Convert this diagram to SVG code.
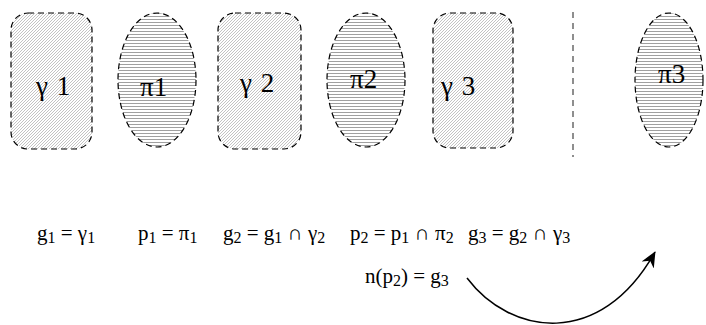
<svg xmlns="http://www.w3.org/2000/svg" width="706" height="325" viewBox="0 0 706 325">
<style>
.rect{fill:url(#diag);stroke:#000;stroke-width:1.2;stroke-dasharray:6 4}
.ell{fill:url(#horiz);stroke:#000;stroke-width:1.2;stroke-dasharray:6 4}
.lbl{font-family:"Liberation Serif","Times New Roman",serif;font-size:27px;fill:#000}
.eq{font-family:"Liberation Serif","Times New Roman",serif;font-size:21px;fill:#000}
.sub{font-size:16px}
</style>
<defs>
<pattern id="diag" width="3" height="3" patternUnits="userSpaceOnUse">
<rect width="3" height="3" fill="#fff"/>
<path d="M-1,1 L1,-1 M0,3 L3,0 M2,4 L4,2" stroke="#9a9a9a" stroke-width="0.6"/>
</pattern>
<pattern id="horiz" width="4" height="3" patternUnits="userSpaceOnUse">
<rect width="4" height="3" fill="#fff"/>
<path d="M0,1.5 L4,1.5" stroke="#888" stroke-width="0.8"/>
</pattern>
<marker id="arr" viewBox="0 0 16 14" refX="15" refY="7" markerWidth="16" markerHeight="14" markerUnits="userSpaceOnUse" orient="auto">
<path d="M0,0 L16,7 L0,14 L5,7 z" fill="#000"/>
</marker>
</defs>
<g id="gamma1"><rect class="rect" x="11" y="13" width="81" height="136" rx="17"/><text class="lbl" x="36" y="95" word-spacing="2">γ 1</text></g>
<g id="pi1"><ellipse class="ell" cx="157" cy="80" rx="39" ry="67"/><text class="lbl" x="140" y="96">π1</text></g>
<g id="gamma2"><rect class="rect" x="218" y="13" width="83" height="136" rx="17"/><text class="lbl" x="240" y="92" word-spacing="2">γ 2</text></g>
<g id="pi2"><ellipse class="ell" cx="366" cy="80" rx="39" ry="67"/><text class="lbl" x="350" y="88">π2</text></g>
<g id="gamma3"><rect class="rect" x="433" y="13" width="80" height="135" rx="17"/><text class="lbl" x="441" y="95" word-spacing="2">γ 3</text></g>
<g id="pi3"><ellipse class="ell" cx="669" cy="80" rx="34" ry="67"/><text class="lbl" x="658" y="83">π3</text></g>
<g id="separator"><line x1="573" y1="12" x2="573" y2="157" stroke="#444" stroke-width="1.2" stroke-dasharray="6 5"/></g>
<g id="formulas">
<text class="eq" x="37" y="240">g<tspan class="sub" dy="3">1</tspan><tspan dy="-3"> = γ</tspan><tspan class="sub" dy="3">1</tspan></text>
<text class="eq" x="138" y="240">p<tspan class="sub" dy="3">1</tspan><tspan dy="-3"> = π</tspan><tspan class="sub" dy="3">1</tspan></text>
<text class="eq" x="223" y="240">g<tspan class="sub" dy="3">2</tspan><tspan dy="-3"> = g</tspan><tspan class="sub" dy="3">1</tspan><tspan dy="-3"> ∩ γ</tspan><tspan class="sub" dy="3">2</tspan></text>
<text class="eq" x="350" y="240">p<tspan class="sub" dy="3">2</tspan><tspan dy="-3"> = p</tspan><tspan class="sub" dy="3">1</tspan><tspan dy="-3"> ∩ π</tspan><tspan class="sub" dy="3">2</tspan></text>
<text class="eq" x="468" y="240">g<tspan class="sub" dy="3">3</tspan><tspan dy="-3"> = g</tspan><tspan class="sub" dy="3">2</tspan><tspan dy="-3"> ∩ γ</tspan><tspan class="sub" dy="3">3</tspan></text>
<text class="eq" x="365" y="283">n(p<tspan class="sub" dy="3">2</tspan><tspan dy="-3">) = g</tspan><tspan class="sub" dy="3">3</tspan></text>
</g>
<g id="connectors"><path d="M467,278 C510,335 600,350 655,252" fill="none" stroke="#000" stroke-width="1.5" marker-end="url(#arr)"/></g>
</svg>
